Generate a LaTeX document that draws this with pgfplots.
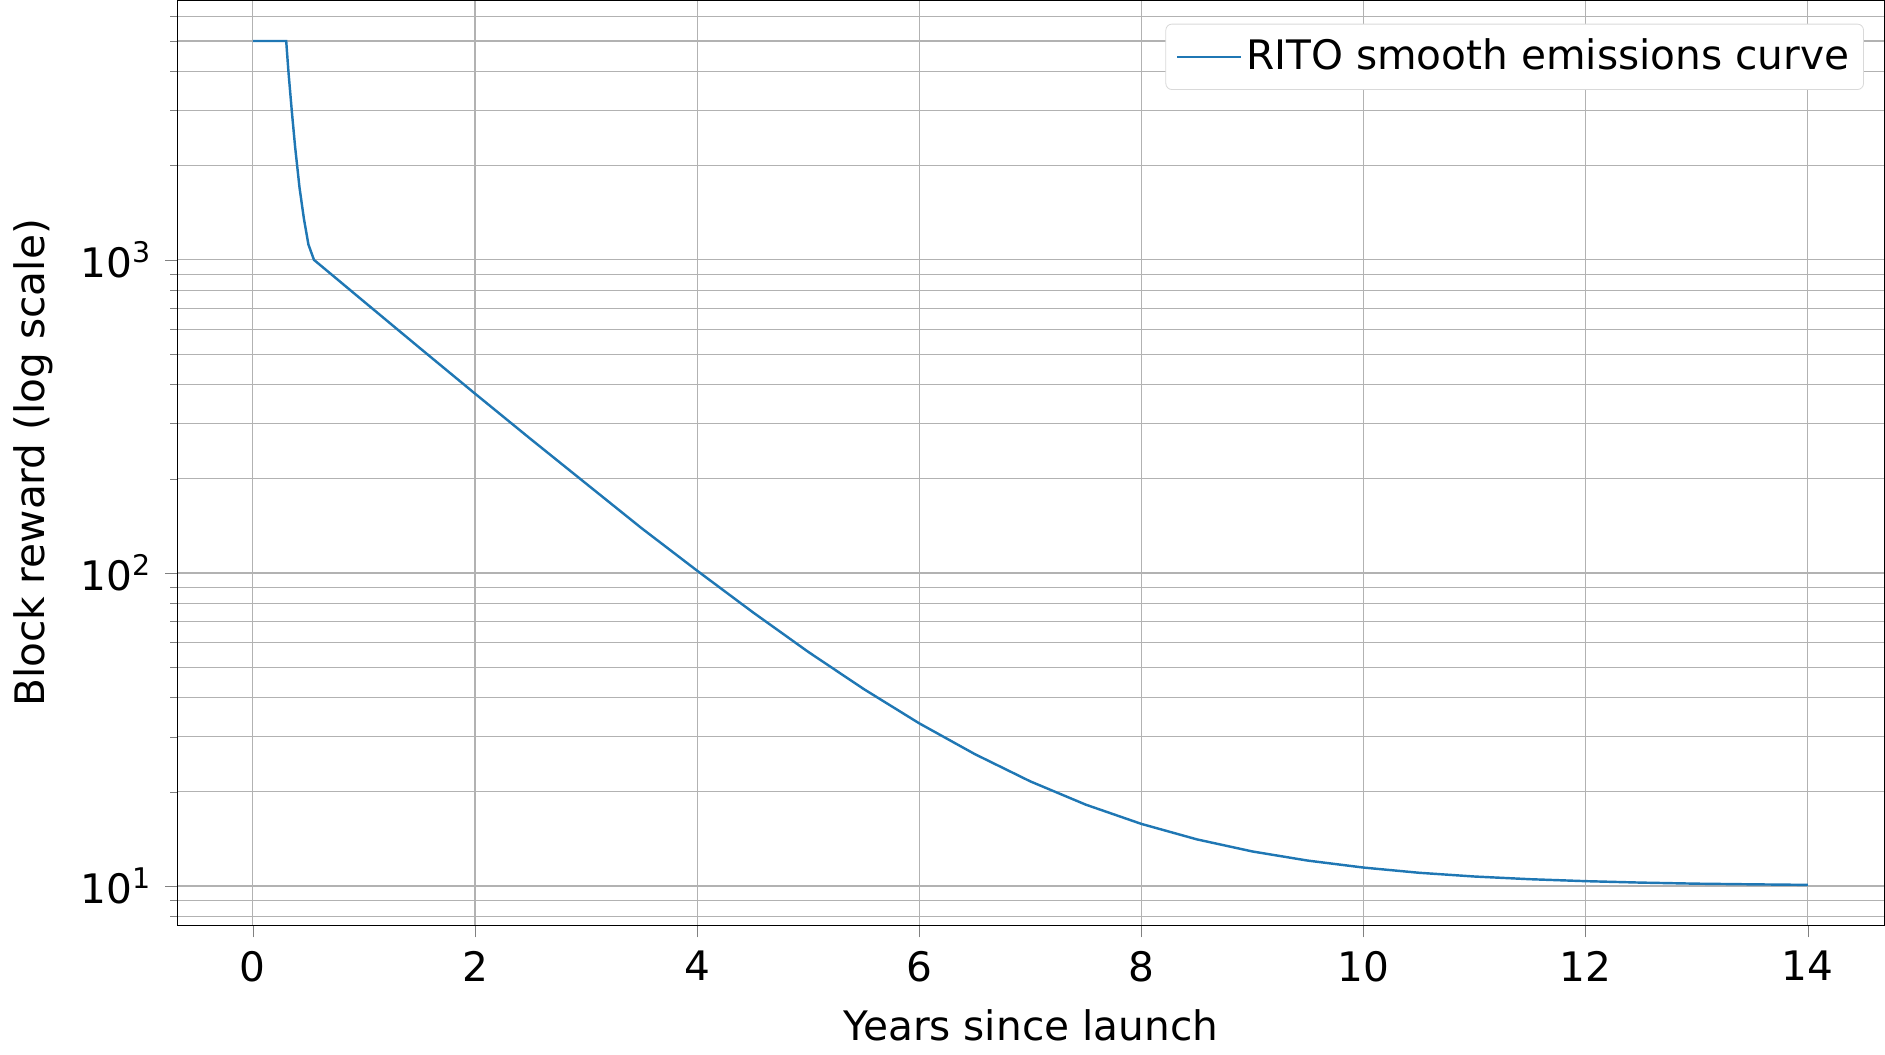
\documentclass[border=0pt]{standalone}
\usepackage{pgfplots}
\pgfplotsset{compat=1.18}
\usepackage{fontspec}
\setmainfont{DejaVu Sans}
\begin{document}
\fontsize{20}{24}\selectfont
\begin{tikzpicture}
\begin{axis}[
  width=840pt, height=455pt, scale only axis,
  ymode=log, xmin=-0.68, xmax=14.69, ymin=7.5, ymax=6730,
  xtick={0,2,...,14},
  ytick={10,100,1000}, yticklabels={10\textsuperscript{1},10\textsuperscript{2},10\textsuperscript{3}},
  minor ytick={8,9,20,30,40,50,60,70,80,90,200,300,400,500,600,700,800,900,2000,3000,4000,5000,6000},
  /pgf/number format/assume math mode=true,
  ticklabel style={font=\fontsize{20}{24}\selectfont},
  label style={font=\fontsize{20}{24}\selectfont},
  tick align=outside, tick pos=left,
  major tick length=6pt, minor tick length=3.5pt,
  xmajorgrids, ymajorgrids, yminorgrids,
  major grid style={gray!60, line width=0.6pt},
  minor grid style={gray!60, line width=0.6pt},
  xlabel={Years since launch}, ylabel={Block reward (log scale)},
  legend style={at={(0.988,0.975)}, anchor=north east, font=\fontsize{20}{24}\selectfont, rounded corners=3pt, draw=gray!30, inner sep=5pt},
  legend image code/.code={\draw[#1] (0cm,0cm) -- (1.1cm,0cm);},
  legend cell align=left,
]
\addplot[color={rgb,255:red,31;green,119;blue,180}, line width=1.2pt] coordinates {
(0,5000)(0.3,5000)(0.32,4000)(0.35,3000)(0.38,2300)(0.42,1700)(0.46,1350)(0.5,1120)(0.55,1000)
(1,736)(1.5,524)(2,374)(2.5,268)(3,193)(3.5,139)(4,101.7)(4.5,75)(5,56)(5.5,42.6)
(6,33.1)(6.5,26.4)(7,21.6)(7.5,18.2)(8,15.8)(8.5,14.1)(9,12.9)(9.5,12.06)(10,11.46)
(10.5,11.03)(11,10.73)(11.5,10.52)(12,10.37)(12.5,10.26)(13,10.18)(13.5,10.13)(14,10.09)};
\addlegendentry{RITO smooth emissions curve}
\end{axis}
\end{tikzpicture}
\end{document}
